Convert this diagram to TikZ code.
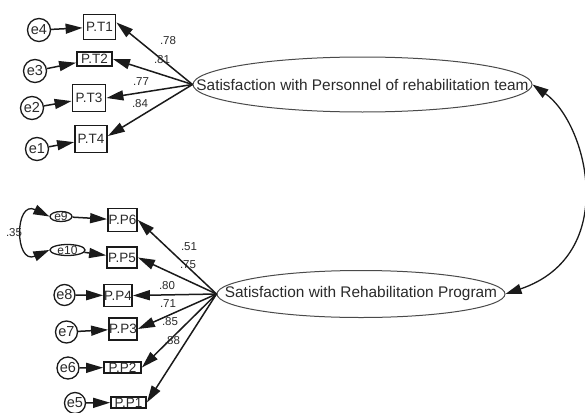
\documentclass[tikz,border=0pt]{standalone}
\usepackage{fontspec}
\setmainfont{Liberation Sans}
\usetikzlibrary{arrows.meta,shapes.geometric}
\definecolor{ink}{HTML}{1A1A1A}
\definecolor{txt}{HTML}{2A2A2A}
\definecolor{ellcol}{HTML}{4A4A4A}
\begin{document}
\begin{tikzpicture}[x=1pt,y=-1pt,
  tip/.style={-{Triangle[length=17pt,width=10pt]}},
  arr/.style={draw=ink, line width=1.5pt, tip},
  cov/.style={draw=ink, line width=1.3pt, {Triangle[length=16pt,width=10pt]}-{Triangle[length=16pt,width=10pt]}},
  obs/.style={draw=ink, line width=1.8pt, rectangle, inner sep=0pt, fill=white, font=\fontsize{13.5}{14}\selectfont, text=txt},
  err/.style={draw=ink, line width=1.3pt, circle, inner sep=0pt, minimum size=23pt, fill=white, font=\fontsize{14.5}{15}\selectfont, text=txt},
  errs/.style={draw=ink, line width=1.3pt, ellipse, inner sep=0pt, fill=white, font=\fontsize{12}{12}\selectfont, text=txt},
  lat/.style={draw=ellcol, line width=1pt, ellipse, inner sep=0pt, fill=white, font=\fontsize{15.4}{16}\selectfont, text=txt},
  coef/.style={inner sep=0pt, font=\fontsize{11.5}{12}\selectfont, text=txt}]
\useasboundingbox (0,0) rectangle (585,412);

% latent variables
\node[lat, minimum width=339pt, minimum height=55pt] (E1) at (362.5,84.5)
  {\makebox[0pt]{Satisfaction with Personnel of rehabilitation team}};
\node[lat, minimum width=288pt, minimum height=47pt] (E2) at (361,294)
  {\makebox[0pt]{Satisfaction with Rehabilitation Program}};

% observed variables (top)
\node[obs, minimum width=32pt, minimum height=25pt] (PT1) at (99.5,27) {P.T1};
\node[obs, minimum width=35pt, minimum height=14pt] (PT2) at (94.5,59) {P.T2};
\node[obs, minimum width=33pt, minimum height=27pt] (PT3) at (89,98) {P.T3};
\node[obs, minimum width=32pt, minimum height=27pt] (PT4) at (91,139) {P.T4};

% errors (top)
\node[err] (e4) at (39,30) {e4};
\node[err] (e3) at (35,71) {e3};
\node[err] (e2) at (32,108) {e2};
\node[err] (e1) at (37,149) {e1};

% observed variables (bottom)
\node[obs, minimum width=29pt, minimum height=23pt] (PP6) at (122.5,220) {P.P6};
\node[obs, minimum width=30pt, minimum height=21pt] (PP5) at (122,257.5) {P.P5};
\node[obs, minimum width=28pt, minimum height=22pt] (PP4) at (118,295.5) {P.P4};
\node[obs, minimum width=28pt, minimum height=22pt] (PP3) at (123,329) {P.P3};
\node[obs, minimum width=37pt, minimum height=11pt] (PP2) at (122.5,367.5) {P.P2};
\node[obs, minimum width=35pt, minimum height=11pt] (PP1) at (128.5,402.5) {P.P1};

% errors (bottom)
\node[errs, minimum width=22pt, minimum height=10pt] (e9) at (61,216.5)
  {\makebox[0pt]{\raisebox{-0.36em}[0pt][0pt]{e9}}};
\node[errs, minimum width=35pt, minimum height=11pt] (e10) at (67.5,250)
  {\makebox[0pt]{\raisebox{-0.36em}[0pt][0pt]{e10}}};
\node[err, minimum size=21pt] (e8) at (64.5,295) {e8};
\node[err, minimum size=22pt] (e7) at (66.5,332) {e7};
\node[err, minimum size=22pt] (e6) at (68,368) {e6};
\node[err, minimum size=21pt] (e5) at (75,403) {e5};

% loadings (top)
\draw[arr] (E1.west) -- (PT1.15);
\draw[arr] (E1.west) -- (PT2.east);
\draw[arr] (E1.west) -- (PT3.east);
\draw[arr] (E1.west) -- (PT4.10);

% loadings (bottom)
\draw[arr] (E2.west) -- (PP6.east);
\draw[arr] (E2.west) -- (PP5.east);
\draw[arr] (E2.west) -- (PP4.east);
\draw[arr] (E2.west) -- (PP3.east);
\draw[arr] (E2.west) -- (PP2.east);
\draw[arr] (E2.west) -- (PP1.east);

% error paths
\draw[arr] (e4) -- (PT1);
\draw[arr] (e3) -- (PT2);
\draw[arr] (e2) -- (PT3);
\draw[arr] (e1) -- (PT4);
\draw[arr] (e9) -- (PP6);
\draw[arr] (e10) -- (PP5);
\draw[arr] (e8) -- (PP4);
\draw[arr] (e7) -- (PP3);
\draw[arr] (e6) -- (PP2);
\draw[arr] (e5) -- (PP1);

% covariances
\draw[cov] (e9.west) .. controls +(-35,-17) and +(-35,15) .. (e10.west);
\draw[cov] (E1.east) .. controls +(55,39) and +(115,-39) .. (E2.east);

% coefficients
\node[coef] (c78) at (168,41) {.78};
\node[coef] (c81) at (162,60) {.81};
\node[coef] (c77) at (141,82) {.77};
\node[coef] (c84) at (140,104) {.84};
\node[coef] (c51) at (189,247) {.51};
\node[coef] (c75) at (188,265) {.75};
\node[coef] (c80) at (167,286) {.80};
\node[coef] (c71) at (168,304) {.71};
\node[coef] (c85) at (170,322) {.85};
\node[coef] (c88) at (172,341) {.88};
\node[coef] (c35) at (14,233) {.35};
\end{tikzpicture}
\end{document}
